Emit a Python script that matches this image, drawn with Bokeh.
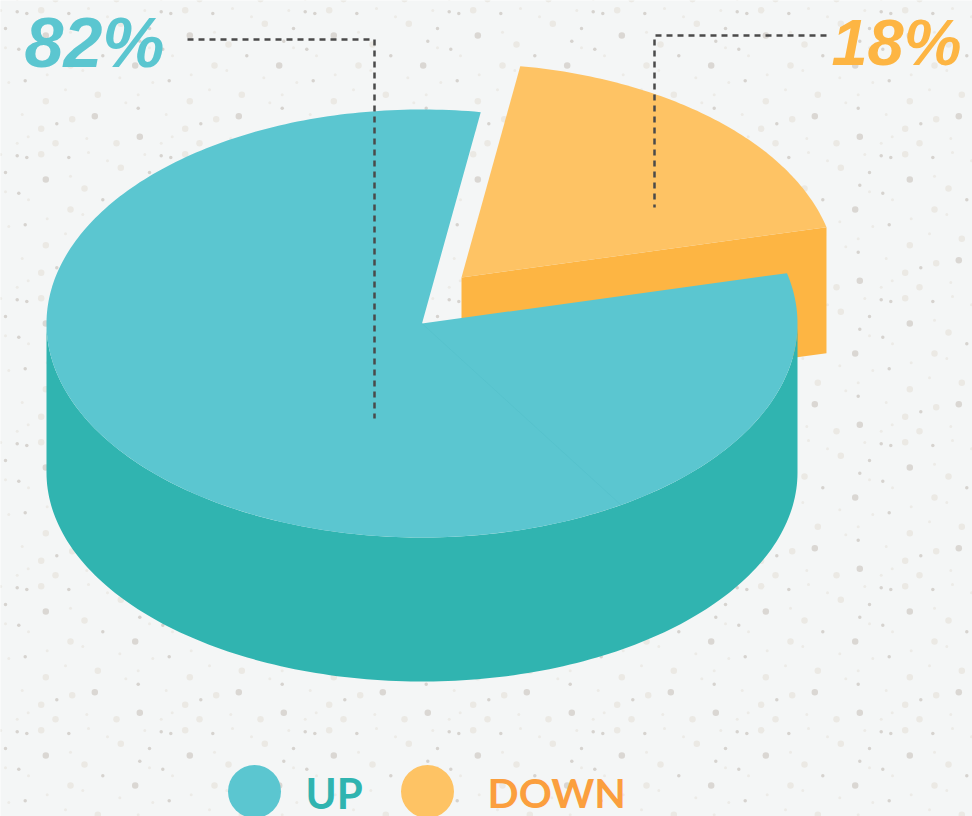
import numpy as np
from bokeh.plotting import figure
from bokeh.models import Range1d
from bokeh.core.properties import value
from bokeh.embed import file_html
from bokeh.resources import INLINE

# --- chart content -------------------------------------------------------
categories = ["UP", "DOWN"]
shares = [82, 18]                     # percent, as printed
# edges of the DOWN slice, degrees on the un-tilted circle
down_start_deg = 13.6
down_end_deg = 81.0
seam_deg = -58.0

# --- pie geometry --------------------------------------------------------
CX, CY, RX, RY = 421.5, 323.0, 375.5, 214.0
UP_DEPTH = 149.0
BOTTOM_RY = 209.0
DOWN_DEPTH = 126.0
DOWN_DX, DOWN_DY = 39.5, -46.0

TEAL_TOP, TEAL_SIDE = "#5bc6d0", "#30b4b0"
ORANGE_TOP, ORANGE_SIDE = "#fec364", "#fdb543"
DOWN_TEXT = "#fb9f3e"
BG = "#f4f6f6"

# --- speckled background: one repeating 144 px tile --
big_dark = [(859.3, 136.3), (909.3, 179), (854.7, 209), (958.3, 259.7)]
small_dark = [(880.7, 155.3), (890.3, 157), (932.3, 157), (869, 172), (859.3, 184.7),
              (882.3, 192.7), (966.3, 199.3), (888.7, 224.3), (857.7, 251.7), (920.3, 267.3)]
big_light = [(836, 142.7), (919, 142.7), (904.7, 153.7), (840.3, 167.3), (948, 188),
             (934, 209), (961.3, 238.3), (909.3, 244.7), (935.7, 262.7), (904.7, 272.3)]
small_light = [(880.7, 142.7), (891.7, 136.3), (950.3, 138), (864.3, 154), (952, 152),
               (827, 160.3), (934, 175.7), (869, 191.3), (892, 199.3), (910.7, 218.3),
               (946.3, 214), (839.3, 221.3), (872.3, 226), (929, 233.3), (857.7, 238.3),
               (845.3, 246.3), (885.7, 258)]

p = figure(width=972, height=816, output_backend="svg", toolbar_location=None,
           x_range=Range1d(0, 972), y_range=Range1d(816, 0),
           min_border=0, min_border_left=0, min_border_right=0,
           min_border_top=0, min_border_bottom=0,
           background_fill_color=BG, border_fill_color=BG, outline_line_color=None)
p.axis.visible = False
p.grid.visible = False
p.styles = {"position": "absolute", "left": "0px", "top": "0px"}


def tiled(dots):
    xs, ys = [], []
    for x, y in dots:
        for i in range(-6, 2):
            for j in range(-1, 6):
                xs.append(x + 144 * i)
                ys.append(y + 144 * j)
    return xs, ys


for dots, size, col in [(big_light, 6.5, "#ebe9e4"), (small_light, 3, "#ecebe7"),
                        (big_dark, 6.5, "#dad7d3"), (small_dark, 3.5, "#d6d3cf")]:
    xs, ys = tiled(dots)
    p.scatter(xs, ys, size=size, color=col, line_color=None)


def pt(deg, dx=0.0, dy=0.0, ry=RY):
    t = np.radians(deg)
    return CX + dx + RX * np.cos(t), CY + dy - ry * np.sin(t)


# DOWN slice, pulled out
ax, ay = CX + DOWN_DX, CY + DOWN_DY
rx0, ry0 = pt(down_start_deg, DOWN_DX, DOWN_DY)
p.patch([ax, rx0, rx0, ax], [ay, ry0, ry0 + DOWN_DEPTH, ay + DOWN_DEPTH],
        color=ORANGE_SIDE, line_color=None)
arc = np.linspace(down_start_deg, down_end_deg, 80)
x, y = pt(arc, DOWN_DX, DOWN_DY)
p.patch([ax, *x], [ay, *y], color=ORANGE_TOP, line_color=None)

# UP slice: side wall
lower = np.linspace(180, 360, 160)
x0, y0 = pt(lower)
x1, y1 = pt(lower, 0, UP_DEPTH, BOTTOM_RY)
p.patch([*x0, *x1[::-1]], [*y0, *y1[::-1]], color=TEAL_SIDE, line_color=None)

# UP slice: top face
arc = np.linspace(down_end_deg, 360 + down_start_deg, 300)
x, y = pt(arc)
p.patch([CX, *x], [CY, *y], color=TEAL_TOP, line_color=None)
sx, sy = pt(seam_deg)
p.line([CX, sx], [CY, sy], line_color="#53bfc9", line_width=1, line_alpha=0.6)

# leader lines
LEAD = "#4a4a4a"
p.line([187, 374, 374], [39, 39, 418], line_color=LEAD, line_width=2.5, line_dash="6 5")
p.line([826, 654, 654], [35, 35, 207], line_color=LEAD, line_width=2.5, line_dash="6 5")

# percentages
p.text([24], [42], text=[f"{shares[0]}%"], text_font=value("Liberation Sans"), text_font_size="70px",
       text_font_style="bold italic", text_color=TEAL_TOP, text_baseline="middle")
p.text([961], [42], text=[f"{shares[1]}%"], text_font=value("Liberation Sans"), text_font_size="65px",
       text_font_style="bold italic", text_color=ORANGE_SIDE, text_align="right",
       text_baseline="middle")

# legend
p.scatter([254, 427], [791, 791], size=53, color=[TEAL_TOP, ORANGE_TOP], line_color=None)
p.text([305], [792], text=[categories[0]], text_font=value("Lato"), text_font_size="42px",
       text_font_style="bold", text_color=TEAL_SIDE, text_baseline="middle")
p.text([487], [792], text=[categories[1]], text_font=value("Lato"), text_font_size="41px",
       text_font_style="bold", text_color=DOWN_TEXT, text_baseline="middle")

open("out.html", "w").write(file_html(p, INLINE))
